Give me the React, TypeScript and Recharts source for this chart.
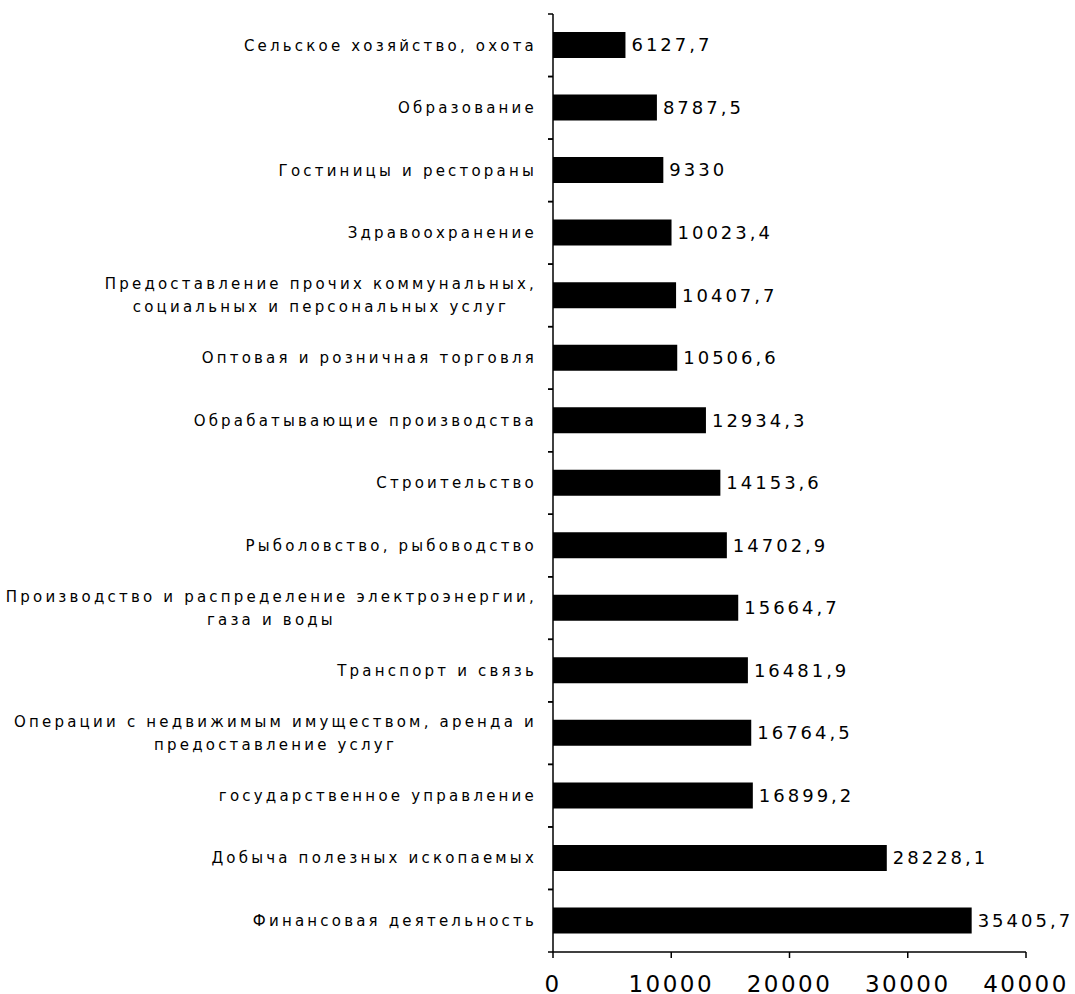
import { Bar, BarChart, LabelList, XAxis, YAxis } from "recharts";

const categories = [
  "Сельское хозяйство, охота",
  "Образование",
  "Гостиницы и рестораны",
  "Здравоохранение",
  "Предоставление прочих коммунальных,\nсоциальных и персональных услуг",
  "Оптовая и розничная торговля",
  "Обрабатывающие производства",
  "Строительство",
  "Рыболовство, рыбоводство",
  "Производство и распределение электроэнергии,\nгаза и воды",
  "Транспорт и связь",
  "Операции с недвижимым имуществом, аренда и\nпредоставление услуг",
  "государственное управление",
  "Добыча полезных ископаемых",
  "Финансовая деятельность",
];

const values = [
  6127.7, 8787.5, 9330, 10023.4, 10407.7, 10506.6, 12934.3, 14153.6, 14702.9,
  15664.7, 16481.9, 16764.5, 16899.2, 28228.1, 35405.7,
];

const xTicks = [0, 10000, 20000, 30000, 40000];

const data = categories.map((name, i) => ({ name, value: values[i] }));

const LABEL_FONT = "DejaVu Sans";
const LABEL_SIZE = 15;
const LABEL_SPACING = 3.2;
const TICK_SIZE = 5;
const TICK_MARGIN = 11;
const LINE_GAP = 23;

let ctx: CanvasRenderingContext2D | null = null;
function textWidth(s: string) {
  if (!ctx) ctx = document.createElement("canvas").getContext("2d");
  if (!ctx) return s.length * 9;
  ctx.font = `${LABEL_SIZE}px "${LABEL_FONT}"`;
  return ctx.measureText(s).width + LABEL_SPACING * s.length;
}

function CategoryTick(props: any) {
  const { x, y, payload } = props;
  const lines: string[] = String(payload.value).split("\n");
  const half = payload.offset ?? 0;
  const axisX = x + TICK_MARGIN + TICK_SIZE;
  const widest = Math.max(...lines.map(textWidth));
  const top = y - ((lines.length - 1) * LINE_GAP) / 2;
  return (
    <g>
      <line x1={axisX - TICK_SIZE} x2={axisX} y1={y - half} y2={y - half} stroke="#000" strokeWidth={1.5} />
      <line x1={axisX - TICK_SIZE} x2={axisX} y1={y + half} y2={y + half} stroke="#000" strokeWidth={1.5} />
      {lines.map((line, i) => (
        <text
          key={i}
          x={lines.length > 1 ? x - widest / 2 : x}
          y={top + i * LINE_GAP}
          dy="0.35em"
          textAnchor={lines.length > 1 ? "middle" : "end"}
          fontFamily={LABEL_FONT}
          fontSize={LABEL_SIZE}
          letterSpacing={LABEL_SPACING}
          fill="#000"
        >
          {line}
        </text>
      ))}
    </g>
  );
}

const formatValue = (v: any) => String(v).replace(".", ",");

export default function App() {
  return (
    <div>
      <style>{"body{margin:0;background:#fff}"}</style>
      <BarChart
        width={1075}
        height={994}
        data={data}
        layout="vertical"
        margin={{ top: 14, right: 49, left: 0, bottom: 0 }}
        barSize={26}
      >
        <XAxis
          type="number"
          domain={[0, 40000]}
          ticks={xTicks}
          interval={0}
          height={42}
          tickSize={6}
          tickMargin={18}
          stroke="#000"
          strokeWidth={1.5}
          tick={{ fill: "#000", fontFamily: LABEL_FONT, fontSize: 23, letterSpacing: 2.5 }}
        />
        <YAxis
          type="category"
          dataKey="name"
          width={553}
          interval={0}
          tickLine={false}
          tickSize={TICK_SIZE}
          tickMargin={TICK_MARGIN}
          stroke="#000"
          strokeWidth={1.5}
          tick={<CategoryTick />}
        />
        <Bar dataKey="value" fill="#000" isAnimationActive={false}>
          <LabelList
            dataKey="value"
            position="right"
            offset={6}
            formatter={formatValue}
            fill="#000"
            fontFamily={LABEL_FONT}
            fontSize={18}
            letterSpacing={3}
          />
        </Bar>
      </BarChart>
    </div>
  );
}
